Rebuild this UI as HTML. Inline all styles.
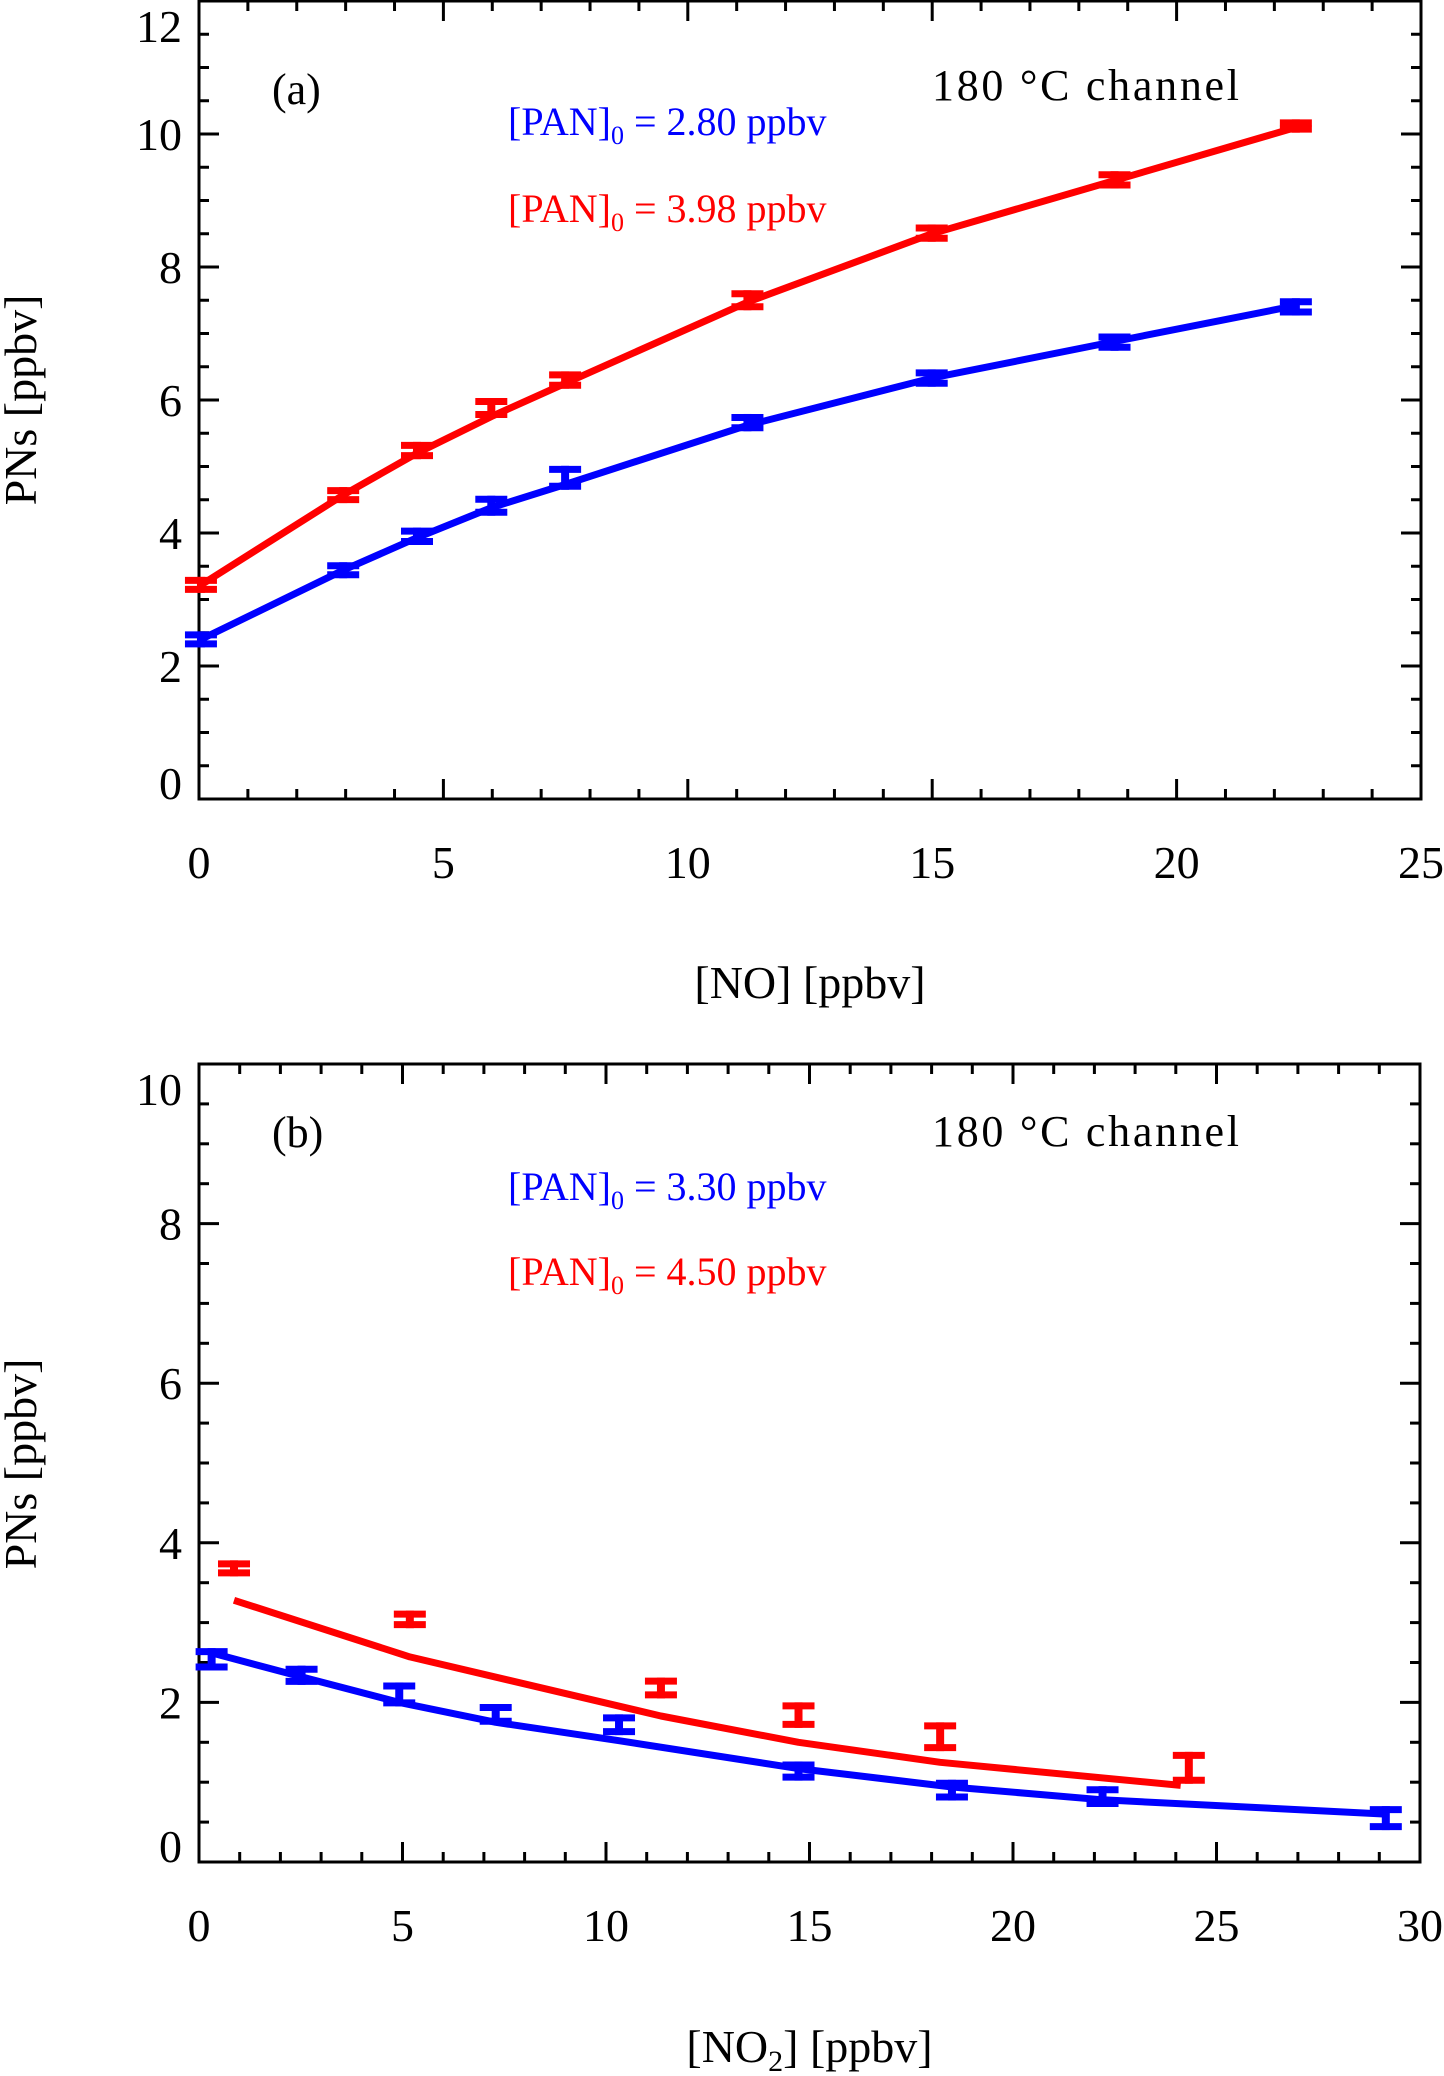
<!DOCTYPE html>
<html><head><meta charset="utf-8"><style>
html,body{margin:0;padding:0;background:#fff;}
svg{display:block;font-family:"Liberation Serif",serif;}
</style></head><body>
<svg id="fig" width="1444" height="2076" viewBox="0 0 1444 2076" xmlns="http://www.w3.org/2000/svg"></svg>
<script>
// Panel (a) data: [NO] vs PNs
const aNO = [0.04, 2.95, 4.46, 5.98, 7.49, 11.22, 14.99, 18.73, 22.44];
const aRedPN = [3.22, 4.57, 5.24, 5.88, 6.30, 7.50, 8.51, 9.31, 10.12];
const aRedFit = [3.22, 4.57, 5.20, 5.75, 6.25, 7.47, 8.50, 9.30, 10.10];
const aRedErr = [0.12, 0.12, 0.13, 0.15, 0.13, 0.15, 0.13, 0.13, 0.1];
const aBluePN = [2.40, 3.44, 3.95, 4.41, 4.83, 5.66, 6.33, 6.87, 7.40];
const aBlueFit = [2.40, 3.44, 3.93, 4.38, 4.73, 5.62, 6.33, 6.88, 7.42];
const aBlueErr = [0.12, 0.12, 0.13, 0.15, 0.18, 0.13, 0.13, 0.13, 0.13];
// Panel (b) data: [NO2] vs PNs
const bBlueNO2 = [0.31, 2.52, 4.92, 7.29, 10.32, 14.73, 18.5, 22.2, 29.16];
const bBluePN = [2.54, 2.34, 2.10, 1.85, 1.72, 1.14, 0.90, 0.82, 0.55];
const bBlueErr = [0.14, 0.12, 0.15, 0.13, 0.13, 0.12, 0.13, 0.13, 0.15];
const bBlueFit = [2.62, 2.32, 2.00, 1.75, 1.52, 1.17, 0.94, 0.78, 0.60];
const bRedNO2 = [0.86, 5.18, 11.35, 14.73, 18.21, 24.32];
const bRedPN = [3.68, 3.04, 2.18, 1.84, 1.57, 1.18];
const bRedErr = [0.1, 0.11, 0.13, 0.16, 0.18, 0.2];
const bRedFitX = [0.86, 5.18, 11.35, 14.73, 18.21, 24.12];
const bRedFit = [3.28, 2.57, 1.83, 1.50, 1.25, 0.96];
// Tick labels
const aXTicks = [0, 5, 10, 15, 20, 25];
const aYTicks = [0, 2, 4, 6, 8, 10, 12];
const bXTicks = [0, 5, 10, 15, 20, 25, 30];
const bYTicks = [0, 2, 4, 6, 8, 10];

const NS = "http://www.w3.org/2000/svg";
const svg = document.getElementById('fig');
function mk(tag, attrs, parent) {
  const e = document.createElementNS(NS, tag);
  for (const k in attrs) e.setAttribute(k, attrs[k]);
  (parent || svg).appendChild(e);
  return e;
}
function txt(s, attrs, parent) { const t = mk('text', attrs, parent); t.textContent = s; return t; }

function panel(cfg) {
  const g = mk('g', {});
  
  
  const X = v => cfg.left + (v - cfg.xmin) / (cfg.xmax - cfg.xmin) * (cfg.right - cfg.left);
  const Y = v => cfg.bottom - (v - cfg.ymin) / (cfg.ymax - cfg.ymin) * (cfg.bottom - cfg.top);
  const fr = mk('rect', {x: cfg.left, y: cfg.top, width: cfg.right - cfg.left, height: cfg.bottom - cfg.top, fill: 'none', stroke: '#000', 'stroke-width': 3}, g);
  
  
  for (let v = cfg.xmin; v <= cfg.xmax + 1e-9; v += cfg.xminor) {
    const major = Math.abs(v / cfg.xmajor - Math.round(v / cfg.xmajor)) < 1e-6;
    const L = major ? 20 : 10, x = X(v);
    mk('line', {x1: x, x2: x, y1: cfg.bottom, y2: cfg.bottom - L, stroke: '#000', 'stroke-width': 3}, g);
    mk('line', {x1: x, x2: x, y1: cfg.top, y2: cfg.top + L, stroke: '#000', 'stroke-width': 3}, g);
  }
  for (let v = cfg.ymin; v <= cfg.ymax + 1e-9; v += cfg.yminor) {
    const major = Math.abs(v / cfg.ymajor - Math.round(v / cfg.ymajor)) < 1e-6;
    const L = major ? 20 : 10, y = Y(v);
    mk('line', {x1: cfg.left, x2: cfg.left + L, y1: y, y2: y, stroke: '#000', 'stroke-width': 3}, g);
    mk('line', {x1: cfg.right, x2: cfg.right - L, y1: y, y2: y, stroke: '#000', 'stroke-width': 3}, g);
  }
  cfg.xTicks.forEach(v => {
    const t = txt(String(v), {x: X(v), y: cfg.bottom + 79, 'text-anchor': 'middle', 'font-size': 46}, g);
    
    
  });
  cfg.yTicks.forEach(v => {
    let yc = Math.min(Math.max(Y(v), cfg.top + 25), cfg.bottom - 16);
    const t = txt(String(v), {x: 182, y: yc + 16, 'text-anchor': 'end', 'font-size': 46}, g);
    
    
  });
  cfg.series.forEach(s => {
    const sg = mk('g', {}, g);
    
    
    const pts = s.fx.map((x, i) => X(x).toFixed(1) + ',' + Y(s.fy[i]).toFixed(1)).join(' ');
    const pl = mk('polyline', {points: pts, fill: 'none', stroke: s.color, 'stroke-width': 7, 'stroke-linejoin': 'round'}, sg);
    
    
    s.x.forEach((xv, i) => {
      const x = X(xv), y1 = Y(s.y[i] + s.e[i]), y2 = Y(s.y[i] - s.e[i]);
      const eg = mk('g', {}, sg);
      
      
      mk('line', {x1: x, x2: x, y1: y1, y2: y2, stroke: s.color, 'stroke-width': 8}, eg);
      mk('line', {x1: x - 16, x2: x + 16, y1: y1 + 3.5, y2: y1 + 3.5, stroke: s.color, 'stroke-width': 7}, eg);
      mk('line', {x1: x - 16, x2: x + 16, y1: y2 - 3.5, y2: y2 - 3.5, stroke: s.color, 'stroke-width': 7}, eg);
    });
  });
  const pl = txt(cfg.label, {x: 272, y: cfg.top + cfg.labelDy, 'font-size': 44}, g);
  
  
  const ch = txt('180 \u00B0C  channel', {x: 932, y: cfg.top + cfg.chDy, 'font-size': 44, textLength: 307, 'xml:space': 'preserve'}, g);
  
  
  cfg.legend.forEach(l => {
    const t = mk('text', {x: 508, y: l.y, 'font-size': 40, fill: l.color}, g);
    
    
    const a = mk('tspan', {}, t); a.textContent = '[PAN]';
    const b = mk('tspan', {dy: 9, 'font-size': 26}, t); b.textContent = '0';
    const c = mk('tspan', {dy: -9}, t); c.textContent = ' = ' + l.val + ' ppbv';
  });
  const xt = mk('text', {x: (cfg.left + cfg.right) / 2, y: cfg.xTitleY, 'text-anchor': 'middle', 'font-size': 46}, g);
  
  
  if (cfg.sub) {
    const a = mk('tspan', {}, xt); a.textContent = '[NO';
    const b = mk('tspan', {dy: 9, 'font-size': 30}, xt); b.textContent = '2';
    const c = mk('tspan', {dy: -9}, xt); c.textContent = '] [ppbv]';
  } else xt.textContent = '[NO] [ppbv]';
  const yt = txt('PNs [ppbv]', {x: 0, y: 0, 'text-anchor': 'middle', 'font-size': 46, transform: 'translate(36,' + cfg.yTitleY + ') rotate(-90)'}, g);
  
  
}

panel({name: 'panel-a', left: 199, right: 1421, top: 1, bottom: 799, xmin: 0, xmax: 25, ymin: 0, ymax: 12,
  xminor: 1, xmajor: 5, yminor: 0.5, ymajor: 2, xTicks: aXTicks, yTicks: aYTicks,
  label: '(a)', labelDy: 103, chDy: 99, xTitleY: 998, yTitleY: 400,
  legend: [{name: 'legend-blue', y: 135, color: '#0000ff', val: '2.80'}, {name: 'legend-red', y: 222, color: '#ff0000', val: '3.98'}],
  series: [
    {name: 'series-red', color: '#ff0000', x: aNO, y: aRedPN, e: aRedErr, fx: aNO, fy: aRedFit},
    {name: 'series-blue', color: '#0000ff', x: aNO, y: aBluePN, e: aBlueErr, fx: aNO, fy: aBlueFit}
  ]});
panel({name: 'panel-b', left: 199, right: 1420, top: 1064, bottom: 1862, xmin: 0, xmax: 30, ymin: 0, ymax: 10,
  xminor: 1, xmajor: 5, yminor: 0.5, ymajor: 2, xTicks: bXTicks, yTicks: bYTicks, sub: true,
  label: '(b)', labelDy: 83, chDy: 82, xTitleY: 2062, yTitleY: 1464,
  legend: [{name: 'legend-blue', y: 1200, color: '#0000ff', val: '3.30'}, {name: 'legend-red', y: 1285, color: '#ff0000', val: '4.50'}],
  series: [
    {name: 'series-red', color: '#ff0000', x: bRedNO2, y: bRedPN, e: bRedErr, fx: bRedFitX, fy: bRedFit},
    {name: 'series-blue', color: '#0000ff', x: bBlueNO2, y: bBluePN, e: bBlueErr, fx: bBlueNO2, fy: bBlueFit}
  ]});
</script>
</body></html>
